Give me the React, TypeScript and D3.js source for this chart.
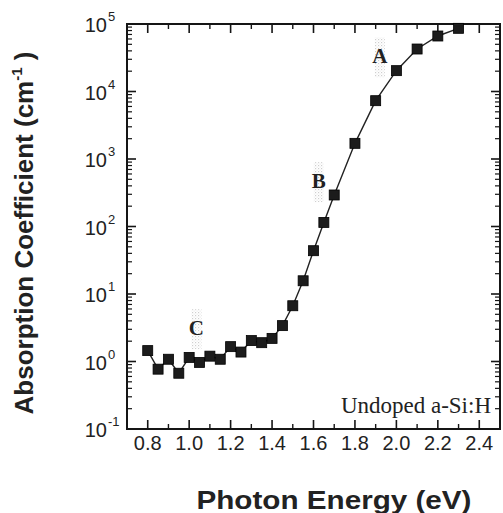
import React from "react";
import * as d3 from "d3";

const energy = [0.8, 0.85, 0.9, 0.95, 1.0, 1.05, 1.1, 1.15, 1.2, 1.25, 1.3, 1.35, 1.4, 1.45, 1.5, 1.55, 1.6, 1.65, 1.7, 1.8, 1.9, 2.0, 2.1, 2.2, 2.3];
const absorption = [1.45, 0.77, 1.08, 0.67, 1.15, 0.97, 1.2, 1.08, 1.66, 1.38, 2.04, 1.9, 2.2, 3.4, 6.7, 15.7, 43.8, 115, 293, 1706, 7310, 20370, 42600, 66400, 86300];
const xMajorTicks = [0.8, 1.0, 1.2, 1.4, 1.6, 1.8, 2.0, 2.2, 2.4];
const xMinorTicks = [0.9, 1.1, 1.3, 1.5, 1.7, 1.9, 2.1, 2.3];
const yDecades = [-1, 0, 1, 2, 3, 4, 5];
const annotations = [
  { label: "A", x: 1.92, y: 2.6e4 },
  { label: "B", x: 1.625, y: 370 },
  { label: "C", x: 1.035, y: 2.45 },
];

const W = 503, H = 513;
const L = 127, R = 500, T = 24, B = 429;

export default function App() {
  const x = d3.scaleLinear().domain([0.7, 2.5]).range([L, R]);
  const y = d3.scaleLog().domain([0.1, 1e5]).range([B, T]);
  const line = d3.line<number>().x((_, i) => x(energy[i])).y((d) => y(d));
  const yMinor: number[] = [];
  for (let e = -1; e < 5; e++) for (let m = 2; m <= 9; m++) yMinor.push(m * Math.pow(10, e));
  const MJ = 9, MN = 5;
  const col = "#151515";
  return (
    <svg width={W} height={H} style={{ position: "absolute", left: 0, top: 0, background: "#fff" }}>
      <defs>
        <pattern id="speck" width="3" height="3" patternUnits="userSpaceOnUse">
          <rect x="0" y="0" width="1.2" height="1.2" fill="#bbb" />
          <rect x="1.6" y="1.6" width="1" height="1" fill="#d4d4d4" />
        </pattern>
      </defs>
      {/* scan speckle around annotation letters */}
      {annotations.map((a) => (
        <rect key={"s" + a.label} x={x(a.x) - 5} y={y(a.y) - 26} width={10} height={40} fill="url(#speck)" opacity={0.7} />
      ))}
      {/* x ticks bottom & top */}
      {xMajorTicks.map((t) => (
        <g key={"xm" + t}>
          <line x1={x(t)} x2={x(t)} y1={B} y2={B - MJ} stroke={col} strokeWidth={1.6} />
          <line x1={x(t)} x2={x(t)} y1={T} y2={T + MJ} stroke={col} strokeWidth={1.6} />
          <text x={x(t)} y={450} textAnchor="middle" fontFamily="Liberation Sans, Arial, sans-serif" fontSize={20} fill="#222">
            {t.toFixed(1)}
          </text>
        </g>
      ))}
      {xMinorTicks.map((t) => (
        <g key={"xn" + t}>
          <line x1={x(t)} x2={x(t)} y1={B} y2={B - MN} stroke={col} strokeWidth={1.4} />
          <line x1={x(t)} x2={x(t)} y1={T} y2={T + MN} stroke={col} strokeWidth={1.4} />
        </g>
      ))}
      {/* y ticks left & right */}
      {yDecades.map((e) => {
        const v = Math.pow(10, e);
        return (
          <g key={"yd" + e}>
            <line x1={L} x2={L + MJ} y1={y(v)} y2={y(v)} stroke={col} strokeWidth={1.6} />
            <line x1={R} x2={R - MJ} y1={y(v)} y2={y(v)} stroke={col} strokeWidth={1.6} />
            <text x={107} y={y(v) + 8} textAnchor="end" fontFamily="Liberation Sans, Arial, sans-serif" fontSize={20} fill="#222">
              10
            </text>
            <text x={108} y={y(v) - 3} textAnchor="start" fontFamily="Liberation Sans, Arial, sans-serif" fontSize={13} fill="#222">
              {e}
            </text>
          </g>
        );
      })}
      {yMinor.map((v, i) => (
        <g key={"yn" + i}>
          <line x1={L} x2={L + MN} y1={y(v)} y2={y(v)} stroke={col} strokeWidth={1.2} />
          <line x1={R} x2={R - MN} y1={y(v)} y2={y(v)} stroke={col} strokeWidth={1.2} />
        </g>
      ))}
      {/* frame */}
      <rect x={L} y={T} width={R - L} height={B - T} fill="none" stroke={col} strokeWidth={2} />
      {/* data */}
      <path d={line(absorption) || ""} fill="none" stroke="#222" strokeWidth={1.4} />
      {absorption.map((v, i) => (
        <rect key={"p" + i} x={x(energy[i]) - 5} y={y(v) - 5} width={10} height={10} fill="#1c1c1c" stroke="#000" strokeWidth={0.8} />
      ))}
      {/* annotations */}
      {annotations.map((a) => (
        <text key={a.label} x={x(a.x)} y={y(a.y)} textAnchor="middle" fontFamily="Liberation Serif, Times New Roman, serif" fontWeight="bold" fontSize={21} fill="#222">
          {a.label}
        </text>
      ))}
      <text x={491} y={413} textAnchor="end" fontFamily="Liberation Serif, Times New Roman, serif" fontSize={23} fill="#222">
        Undoped a-Si:H
      </text>
      {/* axis titles */}
      <text x={334} y={509} textAnchor="middle" textLength={275} lengthAdjust="spacingAndGlyphs" fontFamily="Liberation Sans, Arial, sans-serif" fontWeight="bold" fontSize={25} fill="#222">
        Photon Energy (eV)
      </text>
      <text transform="translate(33,233) rotate(-90)" textAnchor="middle" fontFamily="Liberation Sans, Arial, sans-serif" fontWeight="bold" fontSize={26} fill="#222">
        Absorption Coefficient (cm
        <tspan fontSize={15} dy={-11}>-1</tspan>
        <tspan dy={11}> )</tspan>
      </text>
    </svg>
  );
}
